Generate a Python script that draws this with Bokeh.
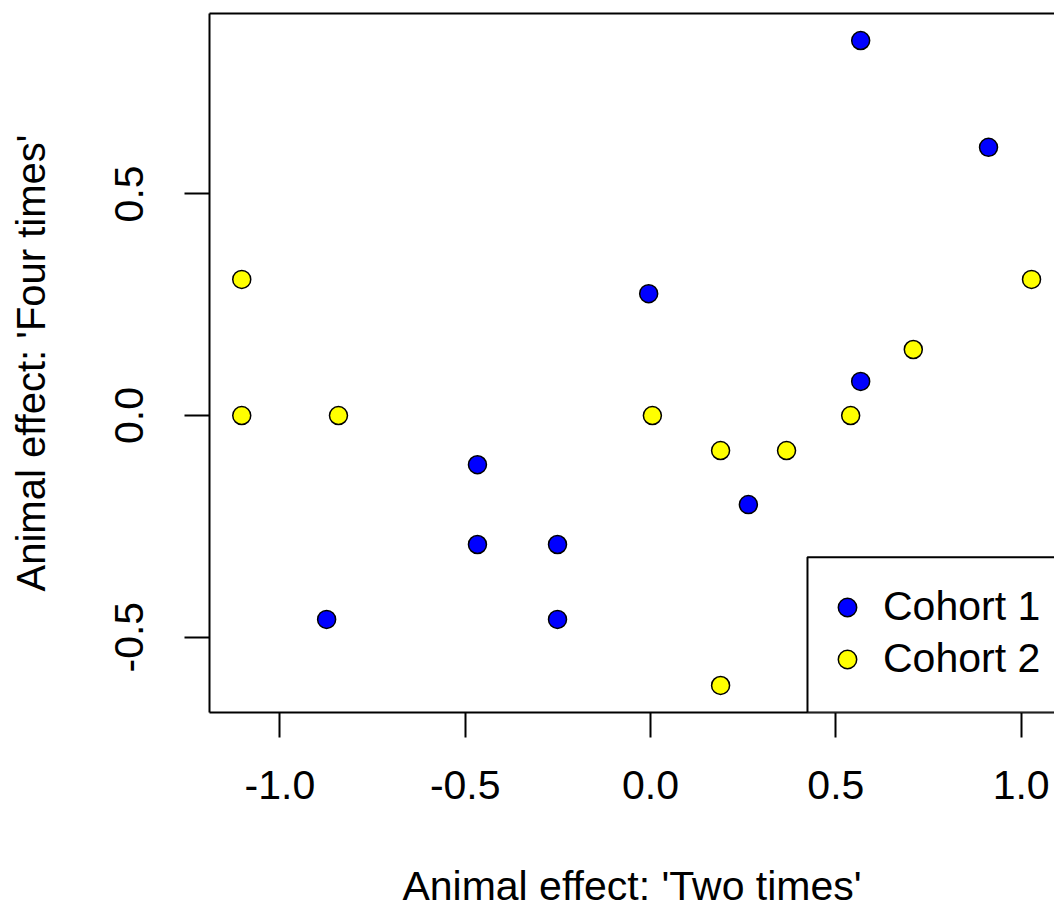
from bokeh.plotting import figure
from bokeh.models import (Range1d, LinearAxis, FixedTicker, Legend, LegendItem,
                          BoxAnnotation, ColumnDataSource, PrintfTickFormatter)
from bokeh.embed import file_html
from bokeh.resources import INLINE

# Animal effects estimated under the two dosing schemes, per cohort
cohort1_two = [0.567, 0.912, -0.005, 0.567, -0.467, -0.467, -0.251, -0.251, -0.874, 0.264]
cohort1_four = [0.846, 0.605, 0.275, 0.077, -0.111, -0.291, -0.291, -0.460, -0.460, -0.201]
cohort2_two = [-1.103, -1.103, -0.842, 0.005, 0.189, 0.367, 0.540, 0.709, 1.028, 0.189]
cohort2_four = [0.307, 0.0, 0.0, 0.0, -0.079, -0.079, 0.0, 0.149, 0.307, -0.609]

cohort_names = ["Cohort 1", "Cohort 2"]
cohort_colors = ["#0000FF", "#FFFF00"]
x_ticks = [-1.0, -0.5, 0.0, 0.5, 1.0]
y_ticks = [-0.5, 0.0, 0.5]
x_title = "Animal effect: 'Two times'"
y_title = "Animal effect: 'Four times'"

FONT = "Liberation Sans"
FS = "41px"

p = figure(width=1054, height=913, output_backend="svg", toolbar_location=None,
           x_range=Range1d(-1.19, 1.09), y_range=Range1d(-0.670, 0.907),
           min_border_left=209, min_border_right=0, min_border_top=13,
           min_border_bottom=201, x_axis_label=x_title, y_axis_label=y_title)
p.outline_line_color = None
p.grid.visible = False
p.background_fill_color = "white"
p.border_fill_color = "white"

for ax, ticks in ((p.xaxis[0], x_ticks), (p.yaxis[0], y_ticks)):
    ax.ticker = FixedTicker(ticks=ticks)
    ax.formatter = PrintfTickFormatter(format="%.1f")
    ax.axis_line_color = "black"
    ax.axis_line_width = 2
    ax.major_tick_line_color = "black"
    ax.major_tick_line_width = 2
    ax.major_tick_out = 25
    ax.major_tick_in = 0
    ax.minor_tick_line_color = None
    ax.major_label_text_font = FONT
    ax.major_label_text_font_size = FS
    ax.major_label_text_color = "black"
    ax.axis_label_text_font = FONT
    ax.axis_label_text_font_size = FS
    ax.axis_label_text_font_style = "normal"
    ax.axis_label_text_color = "black"

p.xaxis[0].major_label_standoff = 33
p.xaxis[0].axis_label_standoff = 61
p.yaxis[0].major_label_orientation = "vertical"
p.yaxis[0].major_label_standoff = 41
p.yaxis[0].axis_label_standoff = 60
p.yaxis[0].axis_label_text_font_size = "40px"

# top edge of the plot box
top_axis = LinearAxis(ticker=FixedTicker(ticks=[]), axis_line_color="black",
                      axis_line_width=2, major_tick_line_color=None,
                      minor_tick_line_color=None)
p.add_layout(top_axis, "above")

src1 = ColumnDataSource(dict(x=cohort1_two, y=cohort1_four))
src2 = ColumnDataSource(dict(x=cohort2_two, y=cohort2_four))
r1 = p.scatter("x", "y", source=src1, size=18, fill_color=cohort_colors[0],
               line_color="black", line_width=1.5)
r2 = p.scatter("x", "y", source=src2, size=18, fill_color=cohort_colors[1],
               line_color="black", line_width=1.5)

# legend frame in the lower right corner
p.add_layout(BoxAnnotation(left=0.4235, right=5.0, top=-0.320, bottom=-0.670,
                           fill_color="white", fill_alpha=1.0,
                           line_color="black", line_alpha=1.0, line_width=2))

legend = Legend(items=[LegendItem(label=cohort_names[0], renderers=[r1]),
                       LegendItem(label=cohort_names[1], renderers=[r2])],
                location=(615, 30), border_line_color=None,
                background_fill_alpha=0.0, padding=0, spacing=5, margin=0,
                glyph_width=46, glyph_height=46, label_standoff=13,
                label_text_font=FONT, label_text_font_size=FS,
                label_text_color="black")
p.add_layout(legend)

open("out.html", "w").write(file_html(p, INLINE))
